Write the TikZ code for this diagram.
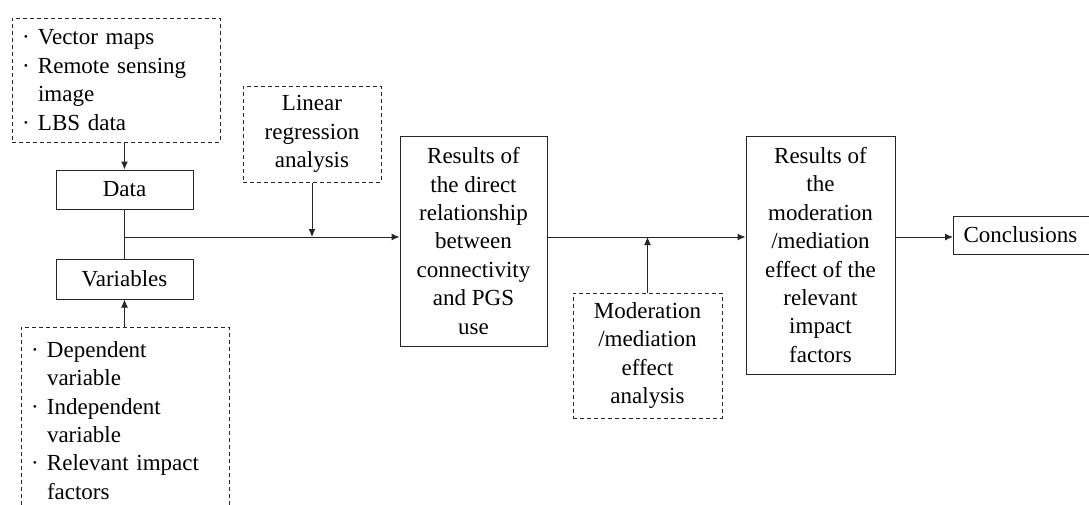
\documentclass[tikz,border=0pt]{standalone}
\usepackage{fontspec}
\setmainfont{Liberation Serif}
\usetikzlibrary{arrows.meta,positioning}
\newcommand{\itembul}{\makebox[16pt][l]{\textperiodcentered}}
\tikzset{%
  >={Latex[width=7pt,length=8pt]},
  % Specifications for style of nodes:
            base/.style = {rectangle, draw=black!85, line width=1pt,
                           inner sep=0pt, align=center, text=black,
                           font=\fontsize{23}{28.4}\selectfont},
		solidbox/.style = {base},
		dashbox/.style = {base, dash pattern=on 4pt off 3pt},
		listbox/.style = {dashbox, minimum width=208pt, text width=188pt,
                           align=left},
}

\begin{document}
\begin{tikzpicture}[x=1pt, y=-1pt, line width=1pt, color=black!85]
  \clip (0,0) rectangle (1089,504);
  % Specification of nodes (position, etc.)
  \node (src)		[listbox, minimum height=124pt]	at (116,80)
	{\itembul Vector maps\\ \itembul Remote sensing\\ \hspace*{16pt}image\\ \itembul LBS data};
  \node (data)		[solidbox, minimum width=137pt, minimum height=39pt]	at (124.5,189.5)	{Data};
  \node (vars)		[solidbox, minimum width=137pt, minimum height=40pt]	at (124.5,279)	{Variables};
  \node (varsrc)	[listbox, minimum height=187pt]	at (125,420.5)
	{\itembul Dependent\\ \hspace*{16pt}variable\\ \itembul Independent\\ \hspace*{16pt}variable\\ \itembul Relevant impact\\ \hspace*{16pt}factors};
  \node (linreg)	[dashbox, minimum width=138pt, minimum height=96pt]	at (312,134)
	{Linear\\ regression\\ analysis};
  \node (direct)	[solidbox, minimum width=147pt, minimum height=210pt]	at (473.5,241)
	{Results of\\ the direct\\ relationship\\ between\\ connectivity\\ and PGS\\ use};
  \node (modan)		[dashbox, minimum width=149pt, minimum height=125pt]	at (647.5,355.5)
	{Moderation\\ /mediation\\ effect\\ analysis};
  \node (modres)	[solidbox, minimum width=149pt, minimum height=238pt]	at (820.5,255)
	{Results of\\ the\\ moderation\\ /mediation\\ effect of the\\ relevant\\ impact\\ factors};
  \node (concl)		[solidbox, anchor=west, inner xsep=10pt, minimum height=38pt]	at (953,235)
	{Conclusions\hspace*{6pt}};

  % Junction points on the main line
  \coordinate (split)	at (data.south |- 0,237);
  \coordinate (lrjoin)	at (linreg.south |- split);
  \coordinate (mdjoin)	at (modan.north |- split);

  % Specification of lines between nodes specified above
	\draw[->]	(data.north |- src.south) --	(data.north);
	\draw		(data) --						(vars);
	\draw[->]	(vars.south |- varsrc.north) --	(vars.south);
	\draw[->]	(split) --						(split -| direct.west);
	\draw[->]	(linreg) --						(lrjoin);
	\draw[->]	(direct.east |- split) --		(modres.west |- split);
	\draw[->]	(modan) --						(mdjoin);
	\draw[->]	(modres.east |- split) --		(concl.west |- split);
\end{tikzpicture}
\end{document}
